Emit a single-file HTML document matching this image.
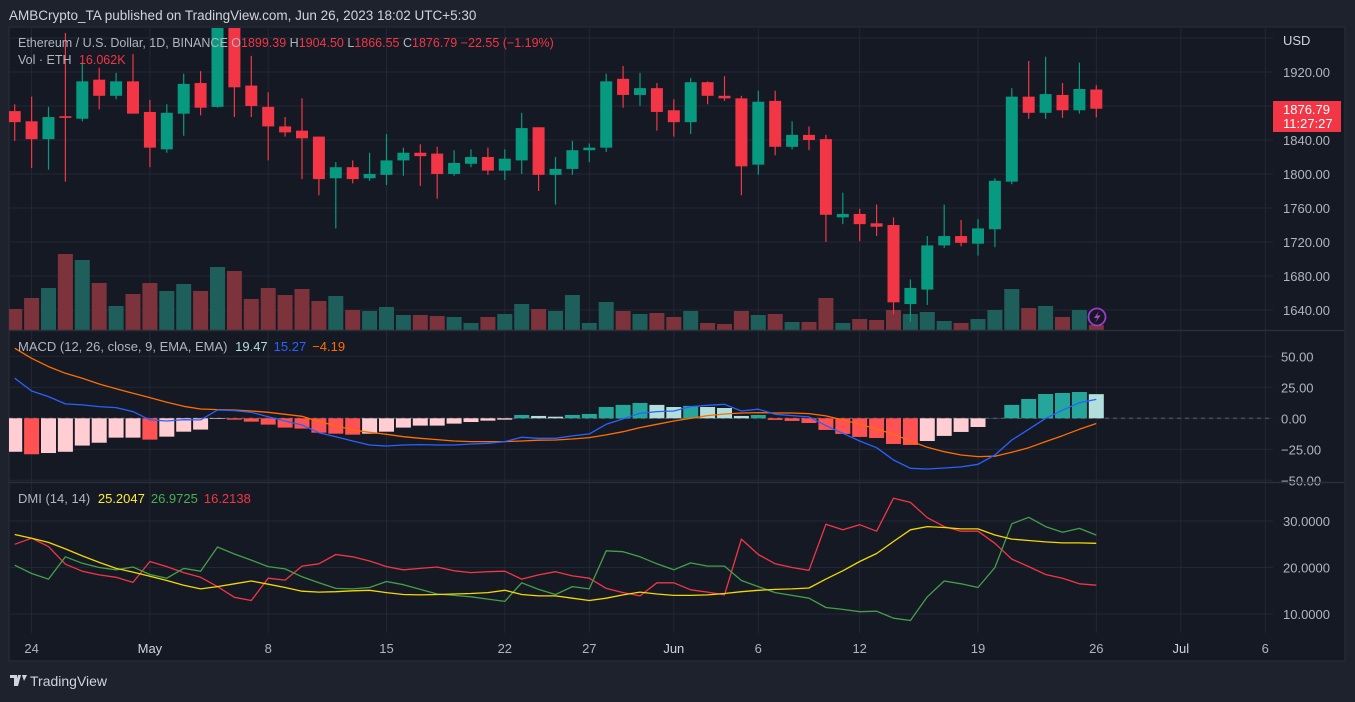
<!DOCTYPE html>
<html><head><meta charset="utf-8">
<style>
html,body{margin:0;padding:0;background:#1e222d;}
body{width:1355px;height:697px;overflow:hidden;font-family:"Liberation Sans",sans-serif;}
svg text{font-family:"Liberation Sans",sans-serif;}
</style></head>
<body>
<svg id="chart" width="1355" height="697" viewBox="0 0 1355 697" xmlns="http://www.w3.org/2000/svg">
<defs>
<clipPath id="cMain"><rect x="9" y="28" width="1264" height="302"/></clipPath>
<clipPath id="cMacd"><rect x="9" y="331" width="1264" height="151"/></clipPath>
<clipPath id="cDmi"><rect x="9" y="483" width="1264" height="150"/></clipPath>
</defs>
<rect x="0" y="0" width="1355" height="697" fill="#1e222d"/>
<text x="9" y="20" fill="#d1d4dc" font-size="13.5">AMBCrypto_TA published on TradingView.com, Jun 26, 2023 18:02 UTC+5:30</text>
<rect x="9" y="27" width="1336" height="634" fill="#151924" stroke="#2a2e39" stroke-width="1"/>
<g id="grid"></g>
<g id="vol" clip-path="url(#cMain)"></g>
<g id="candles" clip-path="url(#cMain)"></g>
<g id="macd" clip-path="url(#cMacd)"></g>
<g id="dmi" clip-path="url(#cDmi)"></g>
<g id="axes"></g>
<line x1="9" y1="330.5" x2="1345" y2="330.5" stroke="#2a2e39" stroke-width="1.5"/>
<line x1="9" y1="482.5" x2="1345" y2="482.5" stroke="#2a2e39" stroke-width="1.5"/>
<g font-size="12.5">
<text x="18" y="47" fill="#b2b5be">Ethereum / U.S. Dollar, 1D, BINANCE <tspan fill="#b2b5be">O</tspan><tspan fill="#f23645">1899.39</tspan> <tspan fill="#b2b5be"> H</tspan><tspan fill="#f23645">1904.50</tspan> <tspan fill="#b2b5be"> L</tspan><tspan fill="#f23645">1866.55</tspan> <tspan fill="#b2b5be"> C</tspan><tspan fill="#f23645">1876.79</tspan><tspan fill="#f23645">  −22.55 (−1.19%)</tspan></text>
<text x="18" y="64" fill="#b2b5be">Vol · ETH <tspan fill="#f23645" dx="4">16.062K</tspan></text>
</g>
<text x="18" y="351" font-size="13" fill="#b2b5be">MACD (12, 26, close, 9, EMA, EMA) <tspan fill="#b2dfdb" dx="4">19.47</tspan><tspan fill="#2962ff" dx="6">15.27</tspan><tspan fill="#ff6d00" dx="6">−4.19</tspan></text>
<text x="18" y="503" font-size="13" fill="#b2b5be">DMI (14, 14) <tspan fill="#ffeb3b" dx="4">25.2047</tspan><tspan fill="#4caf50" dx="6">26.9725</tspan><tspan fill="#f23645" dx="6">16.2138</tspan></text>
<g>
<rect x="1273" y="101" width="68" height="31" fill="#f23645"/>
<text x="1283" y="114" font-size="13" fill="#ffffff">1876.79</text>
<text x="1283" y="128" font-size="13" fill="#ffffff">11:27:27</text>
</g>
<g>
<circle cx="1097" cy="317" r="8.5" fill="#151924" stroke="#9c3cc8" stroke-width="1.8"/>
<path d="M1099 311 L1094 318 L1097.5 318 L1095 323 L1100.5 315.5 L1097 315.5 Z" fill="#b046d8"/>
</g>
<g>
<path d="M10 675 h7 v11 h-3 v-8 h-4 z M18 675 h3 l-3 11 h-3 z M22 675 h5 l-3 6 z" fill="#d1d4dc"/>
<text x="30" y="686" font-size="14" fill="#d1d4dc">TradingView</text>
</g>
</svg>
<script>
const opens=[1874,1862,1841,1868,1865,1911,1892,1909,1873,1829,1871,1907,1879,1990,1904,1879,1856,1851,1844,1795,1808,1795,1799,1816,1825,1824,1800,1812,1820,1804,1816,1855,1799,1806,1828,1831,1912,1893,1901,1875,1861,1908,1892,1889,1811,1886,1832,1846,1841,1749,1753,1742,1740,1647,1664,1716,1727,1718,1735,1791,1891,1872,1893,1875,1899.39];
const highs=[1882,1891,1879,1966,1932,1925,1919,1941,1887,1882,1918,1921,2000,2000,1939,1896,1867,1889,1844,1814,1816,1825,1847,1831,1835,1832,1828,1829,1831,1829,1872,1855,1820,1839,1836,1918,1927,1919,1907,1888,1913,1909,1915,1892,1898,1898,1862,1856,1846,1778,1759,1764,1749,1676,1727,1764,1746,1747,1795,1901,1933,1938,1907,1931,1904.5];
const lows=[1839,1807,1805,1791,1862,1876,1888,1871,1808,1825,1845,1869,1878,1867,1867,1816,1844,1794,1775,1736,1789,1792,1787,1798,1786,1771,1798,1808,1799,1793,1800,1780,1764,1799,1814,1826,1878,1880,1851,1844,1847,1882,1886,1775,1799,1822,1829,1828,1720,1741,1721,1727,1635,1626,1646,1713,1715,1704,1714,1788,1865,1865,1866,1871,1866.55];
const closes=[1861,1841,1867,1866,1909,1892,1909,1871,1831,1872,1906,1878,1990,1902,1880,1856,1849,1842,1794,1808,1794,1800,1816,1825,1821,1800,1813,1820,1804,1818,1854,1799,1806,1828,1831,1909,1893,1901,1873,1861,1908,1892,1889,1809,1885,1832,1846,1840,1752,1753,1741,1738,1649,1666,1716,1727,1719,1736,1792,1891,1872,1894,1875,1900,1876.79];
const volumes=[84,128,168,304,280,188,96,144,188,156,184,156,252,236,124,168,140,164,116,136,80,76,92,60,60,56,52,28,52,64,104,84,76,140,28,112,76,64,68,52,76,28,24,76,60,64,32,32,128,28,44,40,80,64,72,36,28,44,80,164,88,96,52,80,20];
const macdLine=[32.3,22,17.5,11.6,10.8,9.4,8.6,5.4,-1.3,-2.2,-1.1,-1.3,6.7,6.2,4.8,1.3,-2.2,-5.4,-11.6,-14.8,-18.3,-21.5,-22.3,-21.5,-21.2,-21.5,-21.5,-20.7,-20.2,-18.8,-15.3,-16.1,-16.1,-14.2,-12.6,-4.8,-0.5,4,5.4,5.9,9.4,10.5,11.3,5.9,7.3,3.2,2.2,1.1,-5.9,-12.1,-18.3,-23.7,-33.6,-40.3,-40.9,-40.1,-39.2,-37.1,-29.6,-17.5,-8.9,0,6.5,12.6,15.27];
const signalLine=[56.5,48.4,41.7,36.3,32.3,27.7,23.9,20.2,16.7,12.9,9.7,7.5,7,6.7,5.9,4.8,3.2,1.6,-2.7,-5.9,-9.4,-11.3,-12.9,-14.8,-16.1,-17.2,-18.3,-18.8,-18.8,-18.8,-18.3,-17.7,-17.5,-16.7,-15.6,-13.4,-10.8,-7.5,-4.8,-2.2,0,2.2,3.5,4.3,4.6,4.3,4.3,3.8,1.9,-1.3,-4.8,-8.6,-12.9,-18.3,-23.4,-26.9,-29.6,-30.9,-30.6,-27.4,-23.7,-18.8,-14,-8.9,-4.19];
const histogram=[-27,-29,-28,-27,-22,-19.7,-15.6,-15.6,-17.2,-14.8,-10.8,-9.1,-0.5,-1.1,-2.7,-5.1,-7.5,-8.3,-11.6,-12.4,-13.2,-12.4,-10.8,-7.5,-5.9,-5.9,-4.3,-3,-1.9,-1.1,2.7,1.9,1.3,2.7,3.5,9.1,10.8,12.4,10.8,9.1,10,9.1,8.3,1.9,2.7,-1.3,-2.1,-3.8,-9.4,-12.6,-15,-15.9,-20.7,-21.5,-18.3,-14.2,-11,-7,0.2,10.8,15.6,19.6,20.4,21.2,19.47];
const adx=[27.1,26.3,25.4,24,22.5,21.1,19.8,19,18.1,17.2,16.2,15.4,15.9,16.5,17.1,16.4,15.7,14.9,14.7,14.8,15,15.1,14.6,14.2,14.1,14.2,14.3,14.4,14.6,15.1,14.2,13.9,13.9,13.4,12.9,13.4,14.1,14.7,14.3,14,14,14.1,14.4,14.8,15.1,15.3,15.4,15.6,17.5,19.3,21.3,23,25.6,28.1,28.8,28.6,28.3,28.3,27,26.1,25.8,25.5,25.3,25.3,25.2];
const minusDI=[25,26.3,24.5,20.7,19.2,18.4,17.9,16.8,21.3,20.2,18.9,17.9,15.9,13.6,12.9,17.7,17.3,20.3,20.8,22.8,22.3,21.4,20.2,19.5,19.8,20.1,19.3,18.9,19.1,19.2,17.5,18.4,19.1,18.2,17.7,15.5,14.6,13.9,16.7,16.7,15.2,14.7,14.1,26.1,22.8,20.8,20,19.4,29.3,28.1,29.2,27.8,34.9,34,30.7,28.8,27.8,27.8,25.2,21.8,20.2,18.5,17.7,16.5,16.2];
const plusDI=[20.5,18.7,17.5,22.3,20.9,20,19.5,20.1,18.5,17.7,19.8,19.2,24.4,22.9,21.6,20.2,19.7,18,16.7,15.5,15.4,15.7,17,16.3,15.3,14.3,14,13.7,13.2,12.7,16.7,15.3,14.2,15.9,15.4,23.6,23.4,22.3,20.8,19.5,21,20.3,20.3,17.2,15.9,14.6,14,13.4,11.4,11,10.5,10.6,9.1,8.6,13.7,17.1,16.5,15.7,20,29.4,30.8,28.8,27.6,28.4,26.97];
const timeLabels=["24","May","8","15","22","27","Jun","6","12","19","26","Jul","6"];
const timeIndex=[1,8,15,22,29,34,39,44,50,57,64,69,74];
const priceTicks=[1640,1680,1720,1760,1800,1840,1880,1920,1960];
const macdTicks=[50,25,0,-25,-50];
const dmiTicks=[40,30,20,10];

const NS="http://www.w3.org/2000/svg";
const xOf=i=>14.7+i*16.9;
const yPrice=p=>72+(1920-p)*0.85;
const yVol=v=>330-v/4;
const yMacd=v=>418.3-v*1.24;
const yDmi=v=>521+(30-v)*4.65;
function mk(parent,tag,attrs,txt){const e=document.createElementNS(NS,tag);for(const k in attrs)e.setAttribute(k,attrs[k]);if(txt!==undefined)e.textContent=txt;parent.appendChild(e);return e;}
const grid=document.getElementById('grid'),axes=document.getElementById('axes');
const GC="#232734";
timeIndex.forEach((ti,k)=>{
  const x=xOf(ti);
  const l=mk(grid,'line',{x1:x,y1:28,x2:x,y2:633,stroke:GC,'stroke-width':1});
  
  
  const t=mk(axes,'text',{x:x,y:653,'text-anchor':'middle','font-size':13,fill:(timeLabels[k]==="May"||timeLabels[k]==="Jun"||timeLabels[k]==="Jul")?"#d1d4dc":"#b2b5be"},timeLabels[k]);
  
  
});
mk(axes,'text',{x:1283,y:45,'font-size':13,fill:"#d1d4dc"},"USD");
priceTicks.forEach(p=>{
  const y=yPrice(p);
  if(y<30)return;
  const l=mk(grid,'line',{x1:9,y1:y,x2:1273,y2:y,stroke:GC,'stroke-width':1});
  
  
  if(y<55)return;
  const t=mk(axes,'text',{x:1283,y:y+5,'font-size':13,fill:"#b2b5be"},p.toFixed(2));
  
  
});
macdTicks.forEach(v=>{
  const y=yMacd(v);
  const l=mk(grid,'line',{x1:9,y1:y,x2:1273,y2:y,stroke:GC,'stroke-width':1});
  
  
  const t=mk(axes,'text',{x:1281,y:y+5,'font-size':13,fill:"#b2b5be"},(v<0?"−"+Math.abs(v).toFixed(2):v.toFixed(2)));
  
  
});
dmiTicks.forEach(v=>{
  const y=yDmi(v);
  if(y<485)return;
  const l=mk(grid,'line',{x1:9,y1:y,x2:1273,y2:y,stroke:GC,'stroke-width':1});
  
  
  const t=mk(axes,'text',{x:1283,y:y+5,'font-size':13,fill:"#b2b5be"},v.toFixed(4));
  
  
});
const vol=document.getElementById('vol'),cg=document.getElementById('candles');
opens.forEach((o,i)=>{
  const c=closes[i],up=c>=o,x=xOf(i);
  const vb=mk(vol,'rect',{x:x-7.5,y:yVol(volumes[i]),width:15,height:330-yVol(volumes[i]),fill:up?"#1f5f5b":"#7c333b"});
  
  
  const col=up?"#089981":"#f23645";
  const w=mk(cg,'line',{x1:x,y1:yPrice(highs[i]),x2:x,y2:yPrice(lows[i]),stroke:col,'stroke-width':1.2});
  
  
  const top=yPrice(Math.max(o,c)),bot=yPrice(Math.min(o,c));
  const b=mk(cg,'rect',{x:x-6,y:top,width:12,height:Math.max(1.5,bot-top),fill:col});
  
  
});
const mg=document.getElementById('macd');
const z=mk(mg,'line',{x1:9,y1:yMacd(0),x2:1273,y2:yMacd(0),stroke:"#5d606b",'stroke-width':1,'stroke-dasharray':'4 4'});


histogram.forEach((h,i)=>{
  const prev=i>0?histogram[i-1]:h;
  let col;
  if(h>=0)col=(h>=prev)?"#26a69a":"#b2dfdb";else col=(h<prev)?"#ff5252":"#ffcdd2";
  const y0=yMacd(0),y1=yMacd(h);
  const r=mk(mg,'rect',{x:xOf(i)-7.5,y:Math.min(y0,y1),width:15,height:Math.abs(y1-y0),fill:col});
  
  
});
function line(g,arr,yf,col,name){
  const d=arr.map((v,i)=>(i?"L":"M")+xOf(i).toFixed(1)+" "+yf(v).toFixed(1)).join(" ");
  const p=mk(g,'path',{d:d,fill:"none",stroke:col,'stroke-width':1.3,'stroke-linejoin':'round'});
  
  
}
line(mg,signalLine,yMacd,"#ff6d00","macd-signal-line");
line(mg,macdLine,yMacd,"#2962ff","macd-line");
const dg=document.getElementById('dmi');
line(dg,minusDI,yDmi,"#f23645","minus-di-line");
line(dg,plusDI,yDmi,"#43a047","plus-di-line");
line(dg,adx,yDmi,"#f5d800","adx-line");
</script>
</body></html>
